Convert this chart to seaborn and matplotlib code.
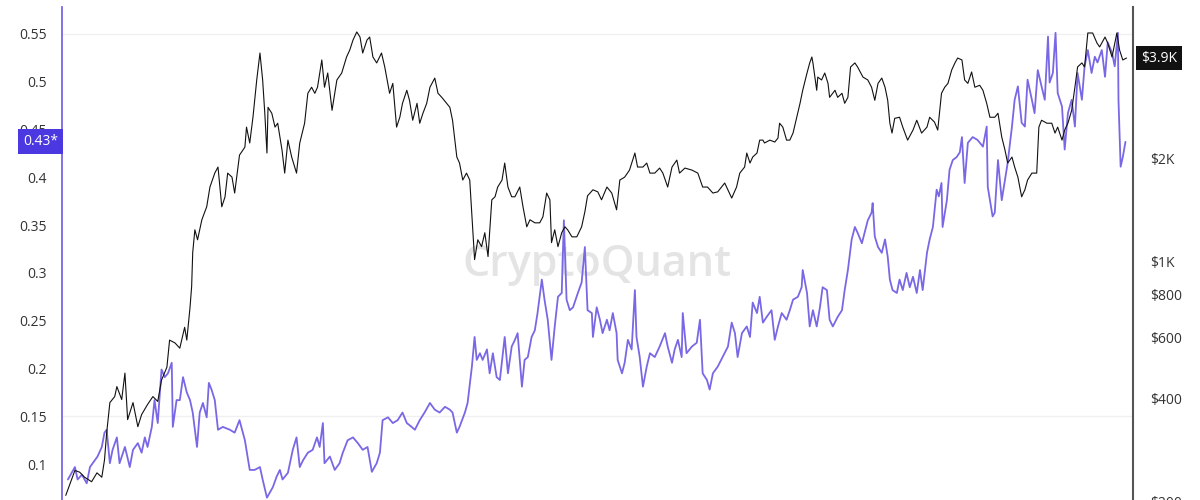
import pandas as pd
import seaborn as sns
import matplotlib.pyplot as plt
from matplotlib.ticker import NullLocator

# Ось времени: дни от начала ряда
start_date = pd.Timestamp("2020-05-17")

# Цена (правая ось, лог. шкала)
price_day = [0, 17, 26, 35, 48, 58, 67, 72, 76, 82, 91, 95, 104, 110, 115, 125, 134, 141, 152, 162,
             171, 178, 188, 193, 203, 212, 221, 225, 231, 234, 236, 240, 245, 253, 255, 262, 268, 277, 283, 290,
             296, 301, 309, 314, 323, 333, 336, 342, 348, 355, 361, 366, 370, 374, 376, 383, 389, 394, 402, 407,
             413, 420, 429, 435, 444, 450, 457, 463, 468, 476, 481, 487, 495, 504, 513, 522, 528, 534, 541, 547,
             552, 560, 565, 571, 578, 587, 593, 602, 608, 615, 621, 626, 634, 639, 645, 653, 658, 664, 671, 677,
             686, 692, 699, 708, 714, 719, 727, 732, 738, 745, 751, 757, 760, 766, 773, 779, 785, 792, 798, 803,
             811, 816, 822, 829, 835, 844, 850, 857, 863, 872, 881, 887, 894, 900, 903, 909, 915, 922, 928, 933,
             941, 950, 959, 965, 970, 980, 989, 996, 1006, 1015, 1024, 1030, 1039, 1048, 1058, 1063, 1073, 1080, 1086, 1095,
             1104, 1110, 1119, 1127, 1136, 1141, 1151, 1164, 1175, 1184, 1193, 1203, 1212, 1225, 1238, 1247, 1253, 1262, 1266, 1272,
             1277, 1285, 1290, 1296, 1299, 1309, 1318, 1324, 1327, 1333, 1340, 1346, 1352, 1359, 1365, 1370, 1378, 1383, 1387, 1389,
             1396, 1398, 1405, 1411, 1417, 1420, 1430, 1435, 1443, 1448, 1454, 1459, 1467, 1472, 1482, 1491, 1498, 1504, 1510, 1517,
             1523, 1528, 1532, 1536, 1541, 1550, 1556, 1565, 1575, 1582, 1591, 1601, 1606, 1615, 1621, 1628, 1634, 1640, 1647, 1653,
             1658, 1666, 1671, 1677, 1684, 1690, 1699, 1705, 1712, 1718, 1727, 1733, 1740, 1746, 1751, 1759, 1764, 1770, 1777, 1783,
             1788, 1796, 1805, 1809, 1814, 1824, 1833, 1839, 1844, 1852, 1857, 1863, 1870, 1876, 1881, 1889, 1894, 1900, 1909, 1917,
             1922, 1932, 1937, 1945, 1954, 1959, 1965, 1972]
price_usd = [209, 247, 244, 236, 229, 243, 236, 265, 317, 389, 405, 433, 397, 474, 347, 389, 331, 359, 384, 405,
             392, 452, 493, 591, 580, 560, 644, 591, 736, 846, 1062, 1237, 1157, 1323, 1349, 1443, 1647, 1808, 1883, 1443,
             1541, 1808, 1760, 1582, 2040, 2152, 2460, 2212, 2628, 3373, 4040, 3373, 2699, 2068, 2809, 2699, 2460, 2525, 2110, 1808,
             2255, 2013, 1808, 2212, 2525, 3085, 3213, 3085, 3213, 3857, 3213, 3534, 2753, 3373, 3534, 3934, 4124, 4408, 4652, 4496,
             4040, 4408, 4496, 3934, 3781, 4040, 3680, 3085, 3297, 2460, 2628, 2885, 3148, 2944, 2576, 2885, 2525, 2699, 2885, 3213,
             3416, 3085, 3003, 2885, 2809, 2576, 2013, 1934, 1726, 1808, 1726, 1213, 1013, 1157, 1105, 1213, 1034, 1512, 1543, 1647,
             1726, 1934, 1647, 1543, 1543, 1647, 1443, 1262, 1323, 1296, 1296, 1349, 1582, 1512, 1135, 1237, 1105, 1213, 1262, 1237,
             1180, 1180, 1262, 1395, 1553, 1617, 1595, 1512, 1647, 1582, 1414, 1726, 1760, 1845, 2068, 1883, 1883, 1934, 1808, 1808,
             1870, 1808, 1647, 1883, 1973, 1808, 1870, 1845, 1808, 1647, 1647, 1582, 1595, 1692, 1530, 1647, 1808, 1883, 2068, 1934,
             2013, 2068, 2255, 2255, 2212, 2255, 2226, 2286, 2525, 2460, 2255, 2255, 2364, 2628, 2885, 3148, 3534, 3781, 3934, 3781,
             3148, 3439, 3373, 3534, 3297, 3003, 3148, 3003, 3085, 2885, 3003, 3680, 3781, 3680, 3439, 3373, 3213, 2944, 3297, 3416,
             3213, 2944, 2525, 2364, 2609, 2628, 2460, 2255, 2412, 2576, 2364, 2460, 2628, 2544, 2412, 3085, 3213, 3297, 3607, 3781,
             3907, 3857, 3373, 3297, 3559, 3213, 3255, 3148, 2885, 2628, 2628, 2699, 2302, 2110, 1934, 2013, 1883, 1760, 1543, 1617,
             1726, 1808, 1808, 2460, 2576, 2525, 2525, 2364, 2460, 2255, 2412, 2525, 2753, 3213, 3680, 3781, 3680, 4620, 4620, 4320,
             4208, 4496, 4320, 3934, 4620, 4124, 3857, 3907]

# Коэффициент (левая ось)
ratio_day = [4, 11, 17, 22, 30, 39, 45, 50, 59, 67, 72, 76, 82, 87, 95, 100, 110, 119, 125, 134,
             141, 147, 152, 160, 165, 171, 178, 184, 190, 197, 199, 206, 212, 218, 225, 231, 236, 244, 249, 255,
             262, 266, 271, 277, 283, 292, 305, 314, 323, 333, 342, 351, 361, 366, 374, 379, 385, 392, 398, 403,
             413, 422, 429, 435, 441, 450, 459, 467, 472, 478, 481, 491, 500, 509, 515, 524, 534, 543, 552, 561,
             569, 578, 584, 589, 599, 608, 617, 626, 634, 643, 649, 658, 667, 677, 686, 695, 705, 714, 719, 727,
             732, 742, 747, 755, 760, 764, 770, 775, 783, 788, 794, 801, 807, 816, 822, 829, 835, 840, 848, 853,
             859, 866, 872, 877, 885, 890, 896, 903, 909, 915, 922, 926, 931, 937, 943, 952, 959, 965, 970, 978,
             980, 987, 993, 998, 1006, 1011, 1017, 1024, 1026, 1034, 1039, 1045, 1052, 1058, 1061, 1067, 1073, 1080, 1086, 1095,
             1104, 1114, 1119, 1127, 1132, 1138, 1145, 1147, 1154, 1164, 1173, 1179, 1184, 1192, 1197, 1203, 1212, 1221, 1231, 1238,
             1244, 1249, 1257, 1266, 1272, 1277, 1285, 1290, 1296, 1303, 1312, 1318, 1324, 1331, 1340, 1346, 1352, 1361, 1368, 1370,
             1378, 1383, 1389, 1396, 1402, 1407, 1415, 1420, 1426, 1435, 1443, 1448, 1454, 1461, 1467, 1472, 1480, 1485, 1491, 1498,
             1500, 1504, 1510, 1517, 1523, 1528, 1532, 1537, 1545, 1550, 1556, 1563, 1569, 1575, 1582, 1588, 1593, 1601, 1606, 1612,
             1619, 1623, 1628, 1630, 1638, 1643, 1649, 1656, 1662, 1666, 1671, 1677, 1686, 1695, 1705, 1712, 1714, 1723, 1727, 1733,
             1740, 1746, 1751, 1759, 1764, 1770, 1777, 1783, 1788, 1796, 1801, 1807, 1814, 1820, 1826, 1829, 1835, 1840, 1844, 1852,
             1857, 1863, 1870, 1876, 1881, 1889, 1894, 1900, 1907, 1913, 1918, 1926, 1932, 1937, 1945, 1950, 1956, 1957, 1961, 1965,
             1970]
ratio_value = [0.084, 0.091, 0.097, 0.084, 0.089, 0.080, 0.097, 0.101, 0.108, 0.118, 0.133, 0.136, 0.101, 0.115, 0.128, 0.101, 0.118, 0.097, 0.115, 0.122,
               0.112, 0.128, 0.118, 0.139, 0.167, 0.143, 0.199, 0.191, 0.195, 0.206, 0.139, 0.167, 0.167, 0.191, 0.175, 0.167, 0.154, 0.118, 0.154, 0.164,
               0.149, 0.185, 0.178, 0.167, 0.136, 0.139, 0.136, 0.133, 0.146, 0.125, 0.094, 0.094, 0.097, 0.084, 0.065, 0.070, 0.076, 0.087, 0.094, 0.084,
               0.091, 0.115, 0.128, 0.097, 0.104, 0.112, 0.115, 0.128, 0.118, 0.143, 0.101, 0.108, 0.094, 0.101, 0.112, 0.125, 0.128, 0.122, 0.115, 0.118,
               0.092, 0.101, 0.112, 0.146, 0.149, 0.143, 0.146, 0.154, 0.143, 0.139, 0.136, 0.146, 0.154, 0.164, 0.157, 0.154, 0.160, 0.157, 0.154, 0.133,
               0.139, 0.154, 0.164, 0.202, 0.233, 0.209, 0.216, 0.209, 0.220, 0.195, 0.216, 0.191, 0.188, 0.233, 0.195, 0.223, 0.230, 0.237, 0.181, 0.209,
               0.212, 0.233, 0.240, 0.258, 0.293, 0.272, 0.251, 0.209, 0.244, 0.275, 0.279, 0.355, 0.272, 0.261, 0.264, 0.279, 0.290, 0.327, 0.261, 0.258,
               0.233, 0.264, 0.251, 0.237, 0.251, 0.240, 0.258, 0.237, 0.209, 0.195, 0.206, 0.230, 0.220, 0.282, 0.233, 0.212, 0.181, 0.202, 0.216, 0.212,
               0.223, 0.237, 0.223, 0.206, 0.220, 0.230, 0.212, 0.258, 0.216, 0.223, 0.227, 0.251, 0.195, 0.188, 0.178, 0.195, 0.202, 0.212, 0.223, 0.248,
               0.237, 0.212, 0.237, 0.244, 0.233, 0.269, 0.258, 0.275, 0.248, 0.254, 0.261, 0.230, 0.244, 0.258, 0.251, 0.261, 0.272, 0.275, 0.285, 0.303,
               0.279, 0.244, 0.261, 0.244, 0.264, 0.285, 0.282, 0.251, 0.244, 0.254, 0.261, 0.282, 0.303, 0.335, 0.348, 0.342, 0.331, 0.342, 0.355, 0.363,
               0.373, 0.338, 0.327, 0.321, 0.335, 0.317, 0.293, 0.282, 0.279, 0.293, 0.282, 0.300, 0.285, 0.296, 0.279, 0.303, 0.282, 0.321, 0.335, 0.348,
               0.387, 0.380, 0.394, 0.348, 0.376, 0.408, 0.418, 0.421, 0.426, 0.442, 0.394, 0.436, 0.442, 0.439, 0.432, 0.453, 0.390, 0.359, 0.363, 0.418,
               0.376, 0.397, 0.415, 0.453, 0.481, 0.495, 0.457, 0.453, 0.502, 0.481, 0.467, 0.512, 0.495, 0.481, 0.547, 0.499, 0.509, 0.551, 0.488, 0.474,
               0.429, 0.467, 0.481, 0.453, 0.509, 0.481, 0.516, 0.533, 0.509, 0.526, 0.520, 0.533, 0.505, 0.541, 0.530, 0.516, 0.551, 0.481, 0.411, 0.421,
               0.437]

left_ticks = [0.1, 0.15, 0.2, 0.25, 0.3, 0.35, 0.4, 0.45, 0.5, 0.55]
left_labels = ["0.1", "0.15", "0.2", "0.25", "0.3", "0.35", "0.4", "0.45", "0.5", "0.55"]
right_ticks = [200, 400, 600, 800, 1000, 2000]
right_labels = ["$200", "$400", "$600", "$800", "$1K", "$2K"]
ratio_tag = "0.43*"
price_tag = "$3.9K"

if len(price_day) != len(price_usd) or len(ratio_day) != len(ratio_value):
    raise ValueError(f"{len(price_day)} {len(price_usd)} {len(ratio_day)} {len(ratio_value)}")

price_df = pd.DataFrame({"date": start_date + pd.to_timedelta(price_day, unit="D"), "price": price_usd})
ratio_df = pd.DataFrame({"date": start_date + pd.to_timedelta(ratio_day, unit="D"), "ratio": ratio_value})

purple = "#7868e6"

sns.set_theme(style="white")
plt.rcParams["font.family"] = ["Open Sans", "DejaVu Sans"]

fig = plt.figure(figsize=(12, 5), dpi=100)
ax = fig.add_axes([62 / 1200, -10 / 500, (1133 - 62) / 1200, 503 / 500])
ax2 = ax.twinx()

# Водяной знак
ax.text(597 / 1200, 1 - 265 / 500, "CryptoQuant", transform=fig.transFigure, ha="center", va="center",
        fontsize=31, color="#e4e4e4", fontweight="semibold", zorder=0)

# Слабые линии сетки
ax.axhline(0.55, color="#f0f0f0", linewidth=1, zorder=0)
ax.axhline(0.15, color="#f0f0f0", linewidth=1, zorder=0)

sns.lineplot(data=ratio_df, x="date", y="ratio", ax=ax, color=purple, linewidth=1.3, estimator=None, zorder=2)
sns.lineplot(data=price_df, x="date", y="price", ax=ax2, color="#111111", linewidth=0.8, estimator=None, zorder=3)

ax2.set_yscale("log")
ax.set_ylim(0.0521, 0.578)
ax2.set_ylim(189.5, 5498)
ax.set_xlim(start_date - pd.Timedelta(days=7), start_date + pd.Timedelta(days=1984))

ax.set_yticks(left_ticks)
ax.set_yticklabels(left_labels)
ax2.set_yticks(right_ticks)
ax2.set_yticklabels(right_labels)
ax2.yaxis.set_minor_locator(NullLocator())

for a in (ax, ax2):
    a.set_xlabel("")
    a.set_ylabel("")
    a.tick_params(axis="x", bottom=False, labelbottom=False)
    a.tick_params(axis="y", length=0, labelsize=10, labelcolor="#333333")
ax.tick_params(axis="y", pad=11)
ax2.tick_params(axis="y", pad=12)

for side in ("top", "bottom", "right"):
    ax.spines[side].set_visible(False)
ax.spines["left"].set_color(purple)
ax.spines["left"].set_linewidth(1.3)
for side in ("top", "bottom", "left"):
    ax2.spines[side].set_visible(False)
ax2.spines["right"].set_color("#555555")
ax2.spines["right"].set_linewidth(1.5)

# Метки последних значений
ax.annotate(ratio_tag, xy=(0, ratio_value[-1]), xycoords=("axes fraction", "data"),
            xytext=(-3, 0), textcoords="offset points", ha="right", va="center",
            color="white", fontsize=10, annotation_clip=False, zorder=10,
            bbox=dict(boxstyle="square,pad=0.35", fc="#4c38e0", ec="none"))
ax2.annotate(price_tag, xy=(1, price_usd[-1]), xycoords=("axes fraction", "data"),
             xytext=(6, 0), textcoords="offset points", ha="left", va="center",
             color="white", fontsize=10, annotation_clip=False, zorder=10,
             bbox=dict(boxstyle="square,pad=0.35", fc="#111111", ec="none"))

fig.savefig("out.png", dpi=100)
